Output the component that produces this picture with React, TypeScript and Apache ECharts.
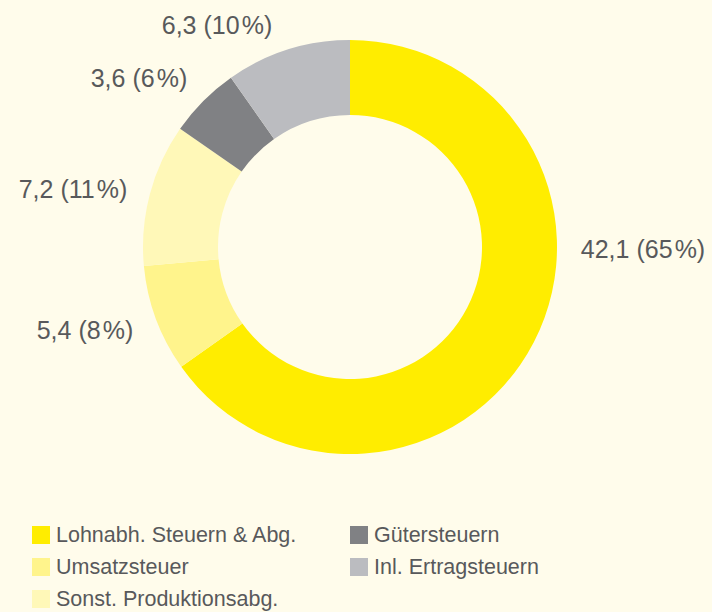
import React, { useEffect, useRef } from "react";
import * as echarts from "echarts";

const categories = [
  "Lohnabh. Steuern & Abg.",
  "Umsatzsteuer",
  "Sonst. Produktionsabg.",
  "Gütersteuern",
  "Inl. Ertragsteuern",
];
const values = [42.1, 5.4, 7.2, 3.6, 6.3];
const colors = ["#FFED00", "#FFF48C", "#FFF8B8", "#808184", "#BBBCC0"];
// label centre positions (px) for each slice, in the same order
const labelPos = [
  [643, 249],
  [85, 330],
  [73, 189],
  [139, 78],
  [217, 25],
];
// legend item positions (left, top) in the same order
const legendPos = [
  [32, 524],
  [32, 556],
  [32, 588],
  [350, 524],
  [350, 556],
];

const FONT = '"Liberation Sans", Arial, Helvetica, sans-serif';
const TEXT = "#58595B";

export default function App() {
  const ref = useRef<HTMLDivElement>(null);
  useEffect(() => {
    document.body.style.margin = "0";
    const chart = echarts.init(ref.current!, null, { renderer: "svg" });
    chart.setOption({
      animation: false,
      backgroundColor: "#FFFCEB",
      textStyle: { fontFamily: FONT },
      legend: categories.map((name, i) => ({
        data: [name],
        orient: "horizontal",
        left: legendPos[i][0],
        top: legendPos[i][1],
        padding: 0,
        itemWidth: 18,
        itemHeight: 18,
        itemGap: 0,
        icon: "rect",
        selectedMode: false,
        textStyle: { fontSize: 21.5, color: TEXT, fontFamily: FONT, padding: [0, 0, 0, 1] },
      })),
      series: [
        {
          type: "pie",
          center: [350, 247],
          radius: [132, 207],
          startAngle: 90,
          clockwise: true,
          percentPrecision: 0,
          silent: true,
          data: categories.map((name, i) => ({
            name,
            value: values[i],
            itemStyle: { color: colors[i] },
          })),
          label: {
            show: true,
            position: "outside",
            fontSize: 25,
            color: TEXT,
            fontFamily: FONT,
            overflow: "none",
            width: 200,
            formatter: (p: any) =>
              `${p.value.toFixed(1).replace(".", ",")} (${Math.round(p.percent)}\u200A%)`,
          },
          labelLine: { show: false },
          labelLayout: (p: any) => ({
            x: labelPos[p.dataIndex][0],
            y: labelPos[p.dataIndex][1],
            align: "center",
            verticalAlign: "middle",
          }),
        },
      ],
    });
    return () => chart.dispose();
  }, []);
  return <div ref={ref} style={{ width: 712, height: 612 }} />;
}
